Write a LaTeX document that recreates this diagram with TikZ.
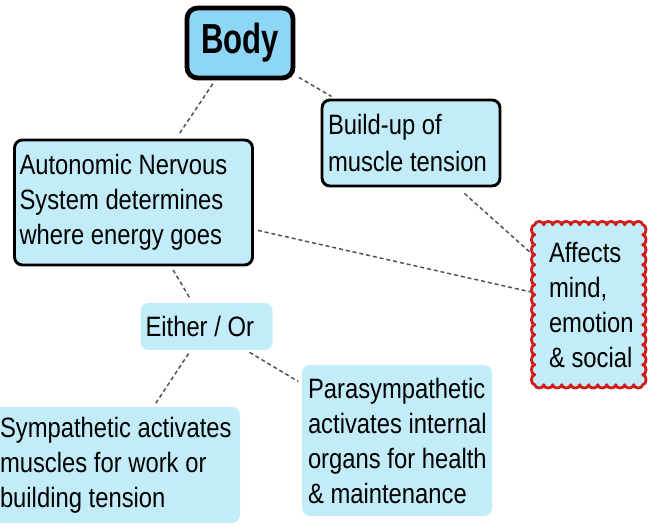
\documentclass[tikz,border=0pt]{standalone}
\usepackage{fontspec}
\setmainfont{Liberation Sans}[FakeStretch=0.85]
\newfontfamily\bodyfont{Liberation Sans}[FakeStretch=0.74]
\usetikzlibrary{calc,backgrounds}
\definecolor{lightfill}{HTML}{C3ECF9}
\definecolor{bodyfill}{HTML}{8ED6F6}
\definecolor{wavered}{HTML}{D01C1C}
\definecolor{dashcol}{HTML}{505050}
\tikzset{
  txt/.style={font=\fontsize{21pt}{26.25pt}\selectfont, align=left, text=black,
    execute at begin node={\spaceskip=5pt plus 1pt minus 1pt\relax}},
  bordered/.style={txt, draw=black, line width=2.2pt, rounded corners=6pt, fill=lightfill},
  plain/.style={txt, fill=lightfill, rounded corners=6pt},
  scallop/.style={draw=wavered, line width=2.1pt, fill=lightfill, line join=round},
  conn/.style={draw=dashcol, line width=1.1pt, dash pattern=on 3pt off 2.2pt,
    shorten <=3pt, shorten >=3pt}
}
\begin{document}
\begin{tikzpicture}[x=0.75pt,y=-0.75pt]
\useasboundingbox (0,0) rectangle (654,527);
% Body
\node[draw=black, line width=3.6pt, rounded corners=8pt, fill=bodyfill,
  minimum width=79.5pt, minimum height=52.5pt, inner sep=0pt,
  font=\bodyfont\bfseries\fontsize{31.5pt}{36pt}\selectfont] (body) at (240,43) {Body};
% Build-up
\node[bordered, font=\fontsize{21pt}{27.5pt}\selectfont, minimum height=64.5pt,
  text width=124.5pt, inner xsep=4.5pt, inner ysep=0pt] (build) at (411,143)
  {\mbox{Build-up of}\\\mbox{muscle tension}};
% Autonomic
\node[bordered, minimum height=93.75pt, text width=171pt, inner xsep=3.75pt,
  inner ysep=0pt] (auto) at (133.5,202.5)
  {\mbox{Autonomic Nervous}\\\mbox{System determines}\\\mbox{where energy goes}};
% Affects (scalloped red border drawn behind the text)
\node[txt, minimum height=120pt, text width=60pt, inner xsep=10.5pt, inner ysep=0pt]
  (aff) at (589,305)
  {\mbox{Affects}\\\mbox{mind,}\\\mbox{emotion}\\\mbox{\& social}};
\begin{scope}[on background layer]
  \draw[scallop] (aff.north west)
    \foreach \i in {1,...,12}{ arc[start angle=180, end angle=0, x radius=3.375pt, y radius=2.5pt] }
    \foreach \i in {1,...,16}{ arc[start angle=90, end angle=-90, x radius=2.5pt, y radius=3.75pt] }
    \foreach \i in {1,...,12}{ arc[start angle=0, end angle=-180, x radius=3.375pt, y radius=2.5pt] }
    \foreach \i in {1,...,16}{ arc[start angle=-90, end angle=-270, x radius=2.5pt, y radius=3.75pt] }
    -- cycle;
\end{scope}
% Either / Or
\node[plain, minimum height=35.25pt, text width=91.5pt, inner xsep=3.75pt, inner ysep=0pt]
  (either) at (206.5,326.5) {\mbox{Either / Or}};
% Sympathetic
\node[plain, minimum height=87pt, text width=172.5pt, inner xsep=7.5pt, inner ysep=0pt]
  (symp) at (115,465)
  {\mbox{Sympathetic activates}\\\mbox{muscles for work or}\\\mbox{building tension}};
% Parasympathetic
\node[plain, minimum height=113.25pt, text width=133.5pt, inner xsep=4.5pt, inner ysep=0pt]
  (para) at (397,440.5)
  {\mbox{Parasympathetic}\\\mbox{activates internal}\\\mbox{organs for health}\\\mbox{\& maintenance}};
% connectors
\draw[conn] (body) -- (auto);
\draw[conn] (body) -- (build);
\draw[conn, shorten <=0pt, shorten >=0pt] ($(build.south east)+(-37,6)$) -- ($(aff.west)+(-5,-53)$);
\draw[conn] (auto) -- (aff);
\draw[conn] (auto) -- (either);
\draw[conn] (either) -- (symp);
\draw[conn] (either) -- (para);
\end{tikzpicture}
\end{document}
